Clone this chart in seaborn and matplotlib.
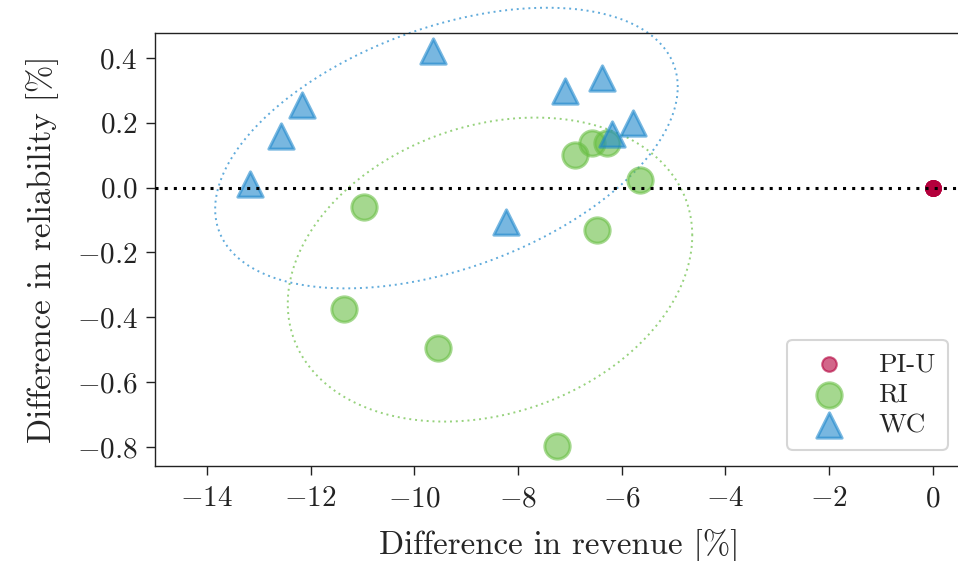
import numpy as np
import pandas as pd
import seaborn as sns
import matplotlib.pyplot as plt

sns.set_style("ticks")
plt.rcParams.update({
    "font.family": "serif",
    "font.serif": ["cmr10"],
    "mathtext.fontset": "cm",
    "axes.formatter.use_mathtext": True,
    "axes.unicode_minus": True,
    "axes.edgecolor": "#222222",
    "axes.linewidth": 1.0,
    "xtick.major.width": 1.0,
    "ytick.major.width": 1.0,
    "xtick.major.size": 6.5,
    "ytick.major.size": 6.5,
    "xtick.color": "#222222",
    "ytick.color": "#222222",
})

# Differences relative to the PI-U baseline, one value per instance
piu_revenue = [0.0, 0.0, 0.0, 0.0, 0.0, 0.0, 0.0, 0.0, 0.0]
piu_reliability = [0.0, 0.0, 0.0, 0.0, 0.0, 0.0, 0.0, 0.0, 0.0]

ri_revenue = [-10.97, -11.36, -9.55, -7.25, -6.48, -6.90, -6.58, -6.29, -5.65]
ri_reliability = [-0.059, -0.376, -0.494, -0.796, -0.130, 0.102, 0.139, 0.139, 0.022]

wc_revenue = [-13.17, -12.57, -12.17, -9.64, -8.23, -7.10, -6.38, -6.19, -5.79]
wc_reliability = [0.010, 0.160, 0.256, 0.421, -0.106, 0.299, 0.339, 0.165, 0.200]

methods = ["PI-U", "RI", "WC"]
colors = ["#b4003c", "#6abf45", "#1e88cc"]

# Spread ellipses (RI, WC): centre, half-extent along each axis, correlation
ell_methods = ["RI", "WC"]
ell_center_revenue = [-8.54, -9.38]
ell_center_reliability = [-0.253, 0.122]
ell_half_revenue = [3.90, 4.46]
ell_half_reliability = [0.469, 0.433]
ell_corr = [0.225, 0.435]

df = pd.DataFrame({
    "revenue": piu_revenue + ri_revenue + wc_revenue,
    "reliability": piu_reliability + ri_reliability + wc_reliability,
    "method": ["PI-U"] * len(piu_revenue) + ["RI"] * len(ri_revenue) + ["WC"] * len(wc_revenue),
})

fig = plt.figure(figsize=(9.58, 5.61), dpi=100)
ax = fig.add_axes([155 / 958, 1 - 466 / 561, (964 - 155) / 958, (466 - 33) / 561])

marker_style = {"PI-U": ("o", 110, 1.5), "RI": ("o", 330, 2.2), "WC": ("^", 330, 2.2)}
for m, c in zip(methods, colors):
    mk, sz, lw = marker_style[m]
    sns.scatterplot(data=df[df["method"] == m], x="revenue", y="reliability",
                    marker=mk, s=sz, color=c, edgecolor=c, linewidth=lw,
                    alpha=0.6, label=m, ax=ax, zorder=3)

ax.axhline(0, color="black", lw=2.2, ls=(0, (1, 2)), zorder=4)

t = np.linspace(0, 2 * np.pi, 400)
for m, cx, cy, hx, hy, rho in zip(ell_methods, ell_center_revenue, ell_center_reliability,
                                  ell_half_revenue, ell_half_reliability, ell_corr):
    c = colors[methods.index(m)]
    ex = cx + hx * np.cos(t)
    ey = cy + hy * (rho * np.cos(t) + np.sqrt(1 - rho ** 2) * np.sin(t))
    ax.plot(ex, ey, color=c, lw=1.4, ls=(0, (1, 2)), alpha=0.7, clip_on=False, zorder=2)

ax.set_xlim(-15, 0.6)
ax.set_ylim(-0.859, 0.477)
ax.set_xticks([-14, -12, -10, -8, -6, -4, -2, 0])
ax.set_yticks([-0.8, -0.6, -0.4, -0.2, 0.0, 0.2, 0.4])
ax.tick_params(axis="both", labelsize=21)
ax.tick_params(axis="x", pad=8)
ax.tick_params(axis="y", pad=6)
ax.set_xlabel("Difference in revenue [%]", fontsize=23.7, labelpad=12)
ax.set_ylabel("Difference in reliability [%]", fontsize=23.7, labelpad=13)
ax.spines["right"].set_visible(False)

leg = ax.legend(loc="lower right", fontsize=19.5, frameon=True, framealpha=0.8,
                edgecolor="#cccccc", borderaxespad=0.6, handletextpad=0.7,
                labelspacing=0.25, borderpad=0.45, handlelength=2.2)
leg.get_frame().set_linewidth(1.5)

fig.savefig("out.png", dpi=100)
